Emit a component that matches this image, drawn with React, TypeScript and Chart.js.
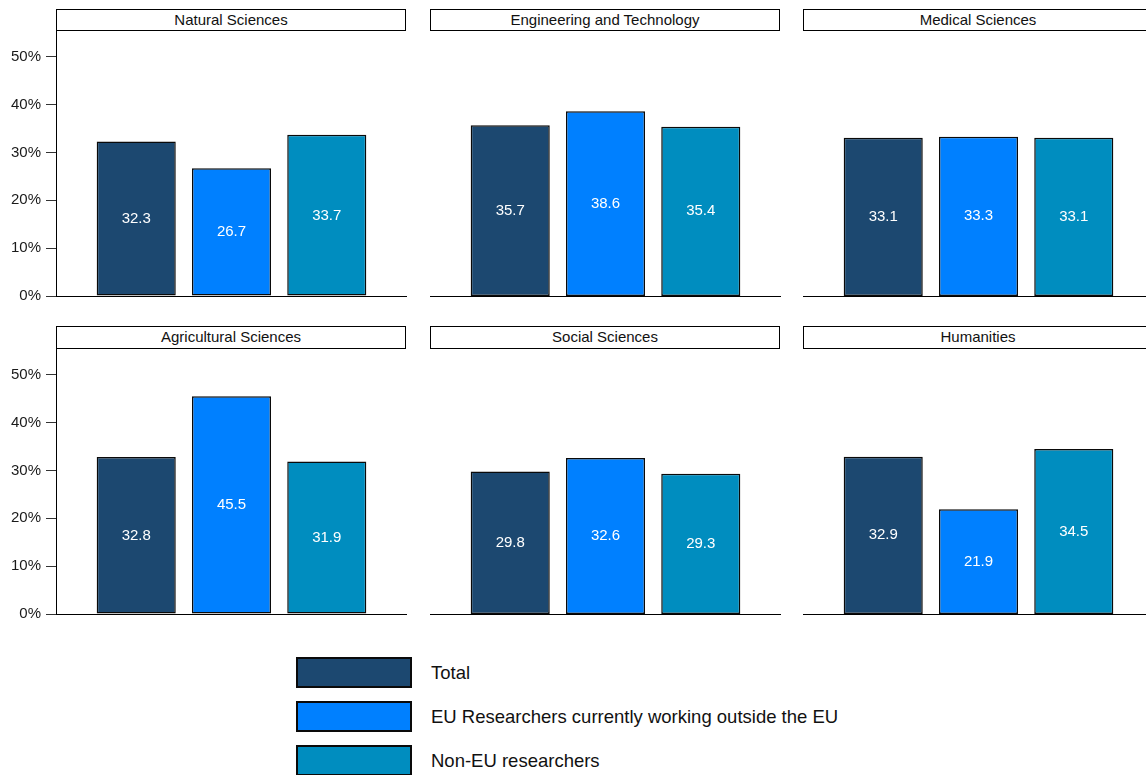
import React, { useEffect, useRef } from "react";
import { Chart, registerables } from "chart.js";

Chart.register(...registerables);

const categories = [
  "Natural Sciences",
  "Engineering and Technology",
  "Medical Sciences",
  "Agricultural Sciences",
  "Social Sciences",
  "Humanities",
];
const seriesNames = [
  "Total",
  "EU Researchers currently working outside the EU",
  "Non-EU researchers",
];
const totalValues = [32.3, 35.7, 33.1, 32.8, 29.8, 32.9];
const euOutsideValues = [26.7, 38.6, 33.3, 45.5, 32.6, 21.9];
const nonEuValues = [33.7, 35.4, 33.1, 31.9, 29.3, 34.5];
const yTicks = [0, 10, 20, 30, 40, 50];
const seriesColors = ["#1C4870", "#0080FF", "#008DBF"];

const FONT = '"Liberation Sans", Arial, Helvetica, sans-serif';
const Y_MAX = 55.4;
const AXIS_W = 56;
const PLOT_W = 351;
const PLOT_H = 265;
const X_AXIS_H = 12;
const colLefts = [56, 430, 803];
const rowTops = [31, 349];
const stripTops = [9, 326];

const barLabelPlugin = {
  id: "barLabels",
  afterDatasetsDraw(chart: any) {
    const ctx = chart.ctx;
    const meta = chart.getDatasetMeta(0);
    const ds = chart.data.datasets[0];
    const yScale = chart.scales.y;
    ctx.save();
    ctx.fillStyle = "#ffffff";
    ctx.font = `15px ${FONT}`;
    ctx.textAlign = "center";
    ctx.textBaseline = "middle";
    meta.data.forEach((bar: any, i: number) => {
      const v = ds.data[i].y;
      ctx.fillText(v.toFixed(1), bar.x, yScale.getPixelForValue(v / 2));
    });
    ctx.restore();
  },
};

function Panel({ index }: { index: number }) {
  const ref = useRef<HTMLCanvasElement>(null);
  const col = index % 3;
  const row = Math.floor(index / 3);
  const isLeft = col === 0;

  useEffect(() => {
    if (!ref.current) return;
    const values = [totalValues[index], euOutsideValues[index], nonEuValues[index]];
    const chart = new Chart(ref.current, {
      type: "bar",
      data: {
        datasets: [
          {
            data: values.map((v, i) => ({ x: i, y: v })),
            backgroundColor: seriesColors,
            borderColor: "#0a0a0a",
            borderWidth: 1.5,
            borderSkipped: false,
            barPercentage: 0.83,
            categoryPercentage: 1,
          },
        ],
      },
      options: {
        animation: false,
        responsive: false,
        maintainAspectRatio: false,
        layout: { padding: 0 },
        plugins: { legend: { display: false }, tooltip: { enabled: false } },
        scales: {
          x: {
            type: "linear",
            min: -0.842,
            max: 2.842,
            offset: false,
            bounds: "data",
            afterBuildTicks: (axis: any) => {
              axis.ticks = [0, 1, 2].map((v) => ({ value: v }));
            },
            grid: { display: false, offset: false },
            ticks: { display: false },
            border: { display: true, color: "#000000", width: 1 },
            afterFit: (axis: any) => {
              axis.height = X_AXIS_H;
              axis.paddingLeft = 0;
              axis.paddingRight = 0;
            },
          },
          y: {
            type: "linear",
            min: 0,
            max: Y_MAX,
            afterBuildTicks: (axis: any) => {
              axis.ticks = yTicks.map((v) => ({ value: v }));
            },
            ticks: {
              display: isLeft,
              color: "#1a1a1a",
              font: { family: FONT, size: 15 },
              padding: 5,
              callback: (v: any) => `${v}%`,
            },
            grid: {
              display: isLeft,
              drawOnChartArea: false,
              drawTicks: true,
              tickLength: 10,
              color: "#333333",
              lineWidth: 1,
            },
            border: { display: isLeft, color: "#000000", width: 1 },
            afterFit: (axis: any) => {
              axis.width = AXIS_W;
              axis.paddingTop = 0;
              axis.paddingBottom = 0;
            },
          },
        },
      },
      plugins: [barLabelPlugin],
    });
    return () => chart.destroy();
  }, [index]);

  return (
    <>
      <div
        style={{
          position: "absolute",
          left: colLefts[col],
          top: stripTops[row],
          width: PLOT_W - 1,
          height: row === 0 ? 22 : 23,
          boxSizing: "border-box",
          border: "1.4px solid #000",
          background: "#fff",
          fontFamily: FONT,
          fontSize: 15,
          lineHeight: "18px",
          paddingBottom: 1,
          color: "#111",
          display: "flex",
          alignItems: "center",
          justifyContent: "center",
        }}
      >
        {categories[index]}
      </div>
      <canvas
        ref={ref}
        width={AXIS_W + PLOT_W}
        height={PLOT_H + X_AXIS_H}
        style={{
          position: "absolute",
          left: colLefts[col] - AXIS_W,
          top: rowTops[row],
          display: "block",
        }}
      />
    </>
  );
}

function Legend() {
  const tops = [657, 701, 745];
  return (
    <>
      {seriesNames.map((name, i) => (
        <React.Fragment key={name}>
          <div
            style={{
              position: "absolute",
              left: 296,
              top: tops[i],
              width: 116,
              height: 31,
              boxSizing: "border-box",
              border: "2px solid #0a0a0a",
              background: seriesColors[i],
            }}
          />
          <div
            style={{
              position: "absolute",
              left: 431,
              top: tops[i],
              height: 31,
              display: "flex",
              alignItems: "center",
              fontFamily: FONT,
              fontSize: 18.5,
              color: "#111",
              whiteSpace: "nowrap",
            }}
          >
            {name}
          </div>
        </React.Fragment>
      ))}
    </>
  );
}

export default function App() {
  return (
    <div
      style={{
        position: "absolute",
        left: 0,
        top: 0,
        width: 1146,
        height: 775,
        overflow: "hidden",
        background: "#ffffff",
      }}
    >
      {categories.map((_, i) => (
        <Panel key={i} index={i} />
      ))}
      <Legend />
    </div>
  );
}
